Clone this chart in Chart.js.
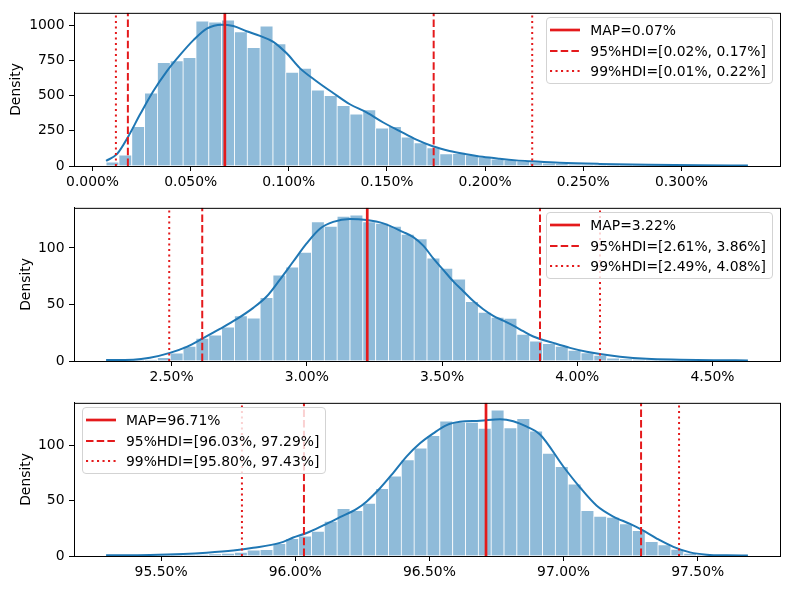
<!DOCTYPE html>
<html lang="en">
<head>
    <meta charset="UTF-8">
    <title>Posterior histograms with HDI</title>
    <script src="https://cdn.jsdelivr.net/npm/chart.js"></script>
    <style>
        body { margin: 0; background: #fff; font-family: 'DejaVu Sans', sans-serif; }
        #wrap { position: relative; width: 790px; height: 590px; overflow: hidden; }
        #wrap canvas { position: absolute; left: 0; }
        .legend {
            position: absolute;
            background: rgba(255, 255, 255, 0.8);
            border: 1px solid #d3d3d3;
            border-radius: 4px;
            padding: 1.5px 6px 1.5px 3px;
            font-size: 13.9px;
            color: #000;
            white-space: nowrap;
        }
        .legend .row { display: flex; align-items: center; height: 20.7px; }
        .legend svg { margin-right: 10px; flex: none; }
    </style>
</head>
<body>
<div id="wrap">
    <canvas id="c1" width="790" height="195" style="top:0"></canvas>
    <canvas id="c2" width="790" height="195" style="top:195px"></canvas>
    <canvas id="c3" width="790" height="195" style="top:390px"></canvas>
</div>

<script>
    // ---- panel 1 ----
    const histRange1 = [0.0069, 0.3339];
    const hist1 = [28, 77, 280, 519, 736, 748, 771, 1030, 1023, 1037,
                   953, 841, 995, 869, 666, 694, 540, 500, 430, 369,
                   399, 269, 280, 206, 164, 129, 86, 89, 77, 61,
                   49, 42, 35, 28, 21, 17, 13, 11, 9, 8,
                   7, 6, 5, 4, 4, 3, 3, 2, 2, 2];
    const kdeX1 = [0.0069, 0.0124, 0.0180, 0.0243, 0.0310, 0.0378, 0.0446, 0.0514, 0.0582, 0.0658,
                   0.0717, 0.0785, 0.0853, 0.0921, 0.0989, 0.1056, 0.1141, 0.1224, 0.1311, 0.1396,
                   0.1479, 0.1565, 0.1650, 0.1733, 0.1819, 0.1904, 0.1987, 0.2074, 0.2159, 0.2242,
                   0.2379, 0.2582, 0.2837, 0.3091, 0.3339];
    const kdeY1 = [37, 84, 205, 369, 533, 673, 790, 895, 977, 1005,
                   995, 958, 925, 883, 801, 696, 603, 521, 439, 381,
                   311, 248, 187, 140, 107, 84, 65, 51, 40, 33,
                   23, 15, 9, 5, 3];
    const map1 = 0.0674;
    const hdi95_1 = [0.0180, 0.1738];
    const hdi99_1 = [0.0119, 0.2240];
    const xTicks1 = [0, 0.05, 0.10, 0.15, 0.20, 0.25, 0.30];
    const xTickLabels1 = ['0.000%', '0.050%', '0.100%', '0.150%', '0.200%', '0.250%', '0.300%'];
    const yTicks1 = [0, 250, 500, 750, 1000];
    const legend1 = ['MAP=0.07%', '95%HDI=[0.02%, 0.17%]', '99%HDI=[0.01%, 0.22%]'];

    // ---- panel 2 ----
    const histRange2 = [2.258, 4.631];
    const hist2 = [0.2, 0.3, 0.6, 1, 3, 7, 13, 20, 23, 30,
                   40, 38, 56, 76, 83, 96, 123, 119, 128, 129,
                   123, 121.7, 119, 112, 108, 91, 82, 72.5, 52.5, 43,
                   38.6, 37.7, 23.5, 17.7, 15.5, 13, 9.5, 7.2, 5, 2.5,
                   2, 1.5, 1, 0.8, 0.6, 0.4, 0.3, 0.2, 0.2, 0.1];
    const kdeX2 = [2.258, 2.3583, 2.4200, 2.4940, 2.5558, 2.6172, 2.6789, 2.7407, 2.8021, 2.8516,
                   2.9008, 2.9500, 2.9995, 3.0487, 3.0979, 3.1596, 3.2214, 3.2828, 3.3568, 3.3937,
                   3.4307, 3.4677, 3.5047, 3.5417, 3.5786, 3.6156, 3.6526, 3.6896, 3.7265, 3.7635,
                   3.8005, 3.8375, 3.9115, 3.9732, 4.0350, 4.0841, 4.1581, 4.2568, 4.3800, 4.5031, 4.631];
    const kdeY2 = [0.9, 1.2, 2.9, 7.2, 12.5, 20.3, 28.4, 37, 47, 57,
                   72, 88, 104, 117, 123, 125.5, 124.6, 121.7, 114, 109.6,
                   102, 90.7, 80.6, 70.4, 61.7, 53, 45.8, 40, 35.7, 31.3,
                   26.4, 21.7, 16, 11.6, 8.1, 6.1, 3.8, 2, 1.2, 0.7, 0.5];
    const map2 = 3.2236;
    const hdi95_2 = [2.6135, 3.8623];
    const hdi99_2 = [2.4914, 4.0841];
    const xTicks2 = [2.5, 3.0, 3.5, 4.0, 4.5];
    const xTickLabels2 = ['2.50%', '3.00%', '3.50%', '4.00%', '4.50%'];
    const yTicks2 = [0, 50, 100];
    const legend2 = ['MAP=3.22%', '95%HDI=[2.61%, 3.86%]', '99%HDI=[2.49%, 4.08%]'];

    // ---- panel 3 ----
    const histRange3 = [95.295, 97.687];
    const hist3 = [0.2, 0.2, 0.3, 0.4, 0.5, 0.7, 0.9, 1.2, 2, 2.5,
                   3.3, 5.4, 5.8, 11.3, 15.8, 18, 22.3, 31.3, 43, 41,
                   47.6, 61, 72.3, 87, 97.6, 109, 122, 121, 121, 115.5,
                   132, 116, 124.4, 113, 93, 81, 65, 41, 36, 35,
                   29, 23, 13, 10, 6, 2.4, 1.2, 0.6, 0.3, 0.2];
    const kdeX3 = [95.295, 95.4583, 95.5825, 95.6697, 95.7689, 95.8434, 95.9430, 95.9925, 96.0425, 96.1044,
                   96.1666, 96.2289, 96.2662, 96.3158, 96.3653, 96.4153, 96.4649, 96.5145, 96.5644, 96.6140,
                   96.6886, 96.7631, 96.8127, 96.8627, 96.9122, 96.9991, 97.0614, 97.1236, 97.1855, 97.2478,
                   97.2888, 97.3473, 97.4092, 97.4715, 97.5337, 97.6083, 97.687];
    const kdeY3 = [0.6, 0.9, 1.8, 3, 5, 7.4, 11.9, 16.7, 20.8, 27.7,
                   35.1, 42.6, 49.4, 61.3, 75.3, 90.2, 102, 111, 118.5, 121.4,
                   122.3, 123.8, 122, 117, 110, 81, 62, 45.5, 35.7, 29,
                   24, 15.8, 8.3, 3.3, 1.2, 0.6, 0.5];
    const map3 = 96.7109;
    const hdi95_3 = [96.0324, 97.2888];
    const hdi99_3 = [95.8013, 97.4304];
    const xTicks3 = [95.5, 96.0, 96.5, 97.0, 97.5];
    const xTickLabels3 = ['95.50%', '96.00%', '96.50%', '97.00%', '97.50%'];
    const yTicks3 = [0, 50, 100];
    const legend3 = ['MAP=96.71%', '95%HDI=[96.03%, 97.29%]', '99%HDI=[95.80%, 97.43%]'];

    const FONT = { family: "'DejaVu Sans', sans-serif", size: 13.9 };
    const RED = '#e41a1c';
    const DASH = [7.5, 3.2];
    const DOT = [2.1, 3.4];

    Chart.defaults.color = '#000';

    // matplotlib style box around the axes
    const framePlugin = {
        id: 'frame',
        afterDraw(chart) {
            const { ctx, chartArea: a } = chart;
            ctx.save();
            ctx.strokeStyle = '#000';
            ctx.lineWidth = 1;
            ctx.strokeRect(a.left + 0.5, a.top + 0.5, a.right - a.left, a.bottom - a.top);
            ctx.restore();
        }
    };

    function vline(x, yMax, width, dash) {
        return {
            type: 'line',
            data: [{ x: x, y: 0 }, { x: x, y: yMax }],
            borderColor: RED,
            borderWidth: width,
            borderDash: dash,
            pointRadius: 0,
            fill: false,
            tension: 0,
            order: 0
        };
    }

    function makePanel(id, p) {
        const [lo, hi] = p.range;
        const binW = (hi - lo) / p.hist.length;
        const pad = (hi - lo) * 0.05;
        const yMax = Math.max(...p.hist, ...p.kdeY) * 1.05;

        new Chart(document.getElementById(id), {
            type: 'bar',
            data: {
                datasets: [
                    vline(p.map, yMax, 2.7, []),
                    vline(p.hdi95[0], yMax, 2, DASH),
                    vline(p.hdi95[1], yMax, 2, DASH),
                    vline(p.hdi99[0], yMax, 2, DOT),
                    vline(p.hdi99[1], yMax, 2, DOT),
                    {
                        type: 'line',
                        data: p.kdeX.map((x, i) => ({ x: x, y: p.kdeY[i] })),
                        borderColor: '#1f77b4',
                        borderWidth: 2,
                        pointRadius: 0,
                        fill: false,
                        cubicInterpolationMode: 'monotone',
                        order: 1
                    },
                    {
                        type: 'bar',
                        data: p.hist.map((v, i) => ({ x: lo + (i + 0.5) * binW, y: v })),
                        backgroundColor: 'rgba(31, 119, 180, 0.5)',
                        borderColor: '#ffffff',
                        borderWidth: 0.75,
                        barPercentage: 1,
                        categoryPercentage: 1,
                        order: 2
                    }
                ]
            },
            options: {
                responsive: false,
                animation: false,
                events: [],
                layout: { padding: { left: p.padLeft, right: 10, top: 10, bottom: 0 } },
                plugins: { legend: { display: false }, tooltip: { enabled: false } },
                scales: {
                    x: {
                        type: 'linear',
                        min: lo - pad,
                        max: hi + pad,
                        offset: false,
                        grid: { offset: false, drawOnChartArea: false, drawTicks: true, tickLength: 5, color: '#000' },
                        border: { display: true, color: '#000', width: 1 },
                        ticks: {
                            font: FONT, padding: 3, autoSkip: false, maxRotation: 0,
                            callback: (v, i) => p.xLabels[i]
                        },
                        afterBuildTicks: s => { s.ticks = p.xTicks.map(v => ({ value: v })); },
                        afterFit: s => { s.height = 29; }
                    },
                    y: {
                        type: 'linear',
                        min: 0,
                        max: yMax,
                        grid: { drawOnChartArea: false, drawTicks: true, tickLength: 5, color: '#000' },
                        border: { display: true, color: '#000', width: 1 },
                        ticks: { font: FONT, padding: 4.5, autoSkip: false, callback: v => String(v) },
                        title: { display: true, text: 'Density', font: FONT, padding: 0 },
                        afterBuildTicks: s => { s.ticks = p.yTicks.map(v => ({ value: v })); },
                        afterFit: s => { s.width = 74 - p.padLeft; }
                    }
                }
            },
            plugins: [framePlugin]
        });
    }

    // html legend, placed inside the axes like matplotlib does
    function makeLegend(labels, pos) {
        const styles = [
            { w: 2.7, dash: '' },
            { w: 2, dash: DASH.join(' ') },
            { w: 2, dash: DOT.join(' ') }
        ];
        const box = document.createElement('div');
        box.className = 'legend';
        Object.assign(box.style, pos);
        labels.forEach((txt, i) => {
            const st = styles[i];
            box.innerHTML += `
                <div class="row">
                    <svg width="30" height="6"><line x1="0" y1="3" x2="30" y2="3" stroke="${RED}"
                        stroke-width="${st.w}" ${st.dash ? `stroke-dasharray="${st.dash}"` : ''}/></svg>
                    <span>${txt}</span>
                </div>`;
        });
        document.getElementById('wrap').appendChild(box);
    }

    makePanel('c1', { range: histRange1, hist: hist1, kdeX: kdeX1, kdeY: kdeY1, map: map1, hdi95: hdi95_1, hdi99: hdi99_1,
                      xTicks: xTicks1, xLabels: xTickLabels1, yTicks: yTicks1, padLeft: 8.4 });
    makePanel('c2', { range: histRange2, hist: hist2, kdeX: kdeX2, kdeY: kdeY2, map: map2, hdi95: hdi95_2, hdi99: hdi99_2,
                      xTicks: xTicks2, xLabels: xTickLabels2, yTicks: yTicks2, padLeft: 17.9 });
    makePanel('c3', { range: histRange3, hist: hist3, kdeX: kdeX3, kdeY: kdeY3, map: map3, hdi95: hdi95_3, hdi99: hdi99_3,
                      xTicks: xTicks3, xLabels: xTickLabels3, yTicks: yTicks3, padLeft: 17.9 });

    makeLegend(legend1, { right: '17px', top: '17px' });
    makeLegend(legend2, { right: '17px', top: '212px' });
    makeLegend(legend3, { left: '82px', top: '407px' });
</script>
</body>
</html>
